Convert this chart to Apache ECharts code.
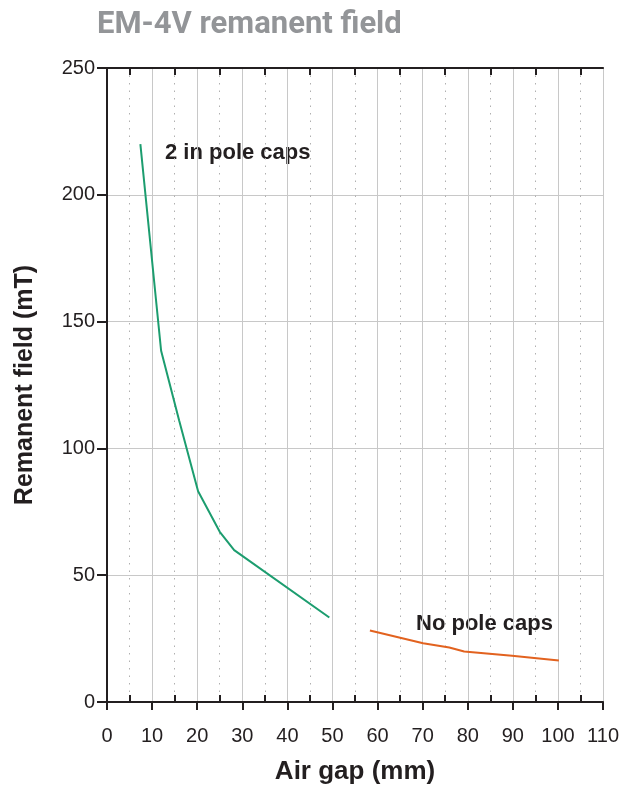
<!DOCTYPE html>
<html>
<head>
<meta charset="utf-8">
<script src="https://cdn.jsdelivr.net/npm/echarts@6/dist/echarts.min.js"></script>
<style>html,body{margin:0;padding:0;background:#fff;overflow:hidden;}#c{width:622px;height:790px;}</style>
</head>
<body>
<div id="c"></div>
<script>
const xTicks = [0, 10, 20, 30, 40, 50, 60, 70, 80, 90, 100, 110];
const yTicks = [0, 50, 100, 150, 200, 250];
const capsGap = [7.4, 12.0, 16.0, 20.2, 25.0, 28.2, 49.3];
const capsField = [220, 138.5, 111, 83.1, 67.1, 59.9, 33.3];
const noCapsGap = [58.3, 70.1, 75.9, 79.2, 89.8, 100.2];
const noCapsField = [28.2, 23.2, 21.5, 19.9, 18.2, 16.4];

const FONT = '"Liberation Sans Narrow", "Liberation Sans", Arial, sans-serif';
const INK = '#231f20';
const GRID = '#c8c8c8';

const chart = echarts.init(document.getElementById('c'), null, {renderer: 'canvas'});
const pair = (xs, ys) => xs.map((x, i) => [x, ys[i]]);

chart.setOption({
  animation: false,
  backgroundColor: '#fff',
  title: {
    text: 'EM-4V remanent field',
    left: 97, top: 10, padding: 0,
    textStyle: {fontFamily: 'Roboto, "Liberation Sans", sans-serif', fontWeight: 'bold', fontSize: 31, color: '#939598'}
  },
  grid: {left: 107, right: 13, top: 68, bottom: 86, containLabel: false},
  xAxis: [
    {
      type: 'value', position: 'bottom', min: xTicks[0], max: xTicks[xTicks.length - 1], interval: 10,
      name: 'Air gap (mm)', nameLocation: 'middle', nameGap: 57,
      nameTextStyle: {fontFamily: FONT, fontWeight: 'bold', fontSize: 26, color: INK},
      axisLine: {show: true, lineStyle: {color: INK, width: 2}},
      axisTick: {show: true, inside: false, length: 8, lineStyle: {color: INK, width: 2}},
      axisLabel: {fontFamily: FONT, fontSize: 20, color: INK, margin: 24},
      splitLine: {show: true, lineStyle: {color: GRID, width: 1}},
      minorTick: {show: false, splitNumber: 2},
      minorSplitLine: {show: true, lineStyle: {color: '#b0b0b0', width: 1, type: [1.5, 6]}}
    },
    {
      type: 'value', position: 'bottom', min: 0, max: 110, interval: 10,
      axisLine: {show: false},
      axisTick: {show: false, inside: true},
      axisLabel: {show: false},
      splitLine: {show: false},
      minorTick: {show: true, splitNumber: 2, length: 7, lineStyle: {color: INK, width: 2}}
    },
    {
      type: 'value', position: 'top', min: 0, max: 110, interval: 10,
      axisLine: {show: true, lineStyle: {color: INK, width: 2}},
      axisTick: {show: false, inside: true},
      axisLabel: {show: false},
      splitLine: {show: false},
      minorTick: {show: true, splitNumber: 2, length: 7, lineStyle: {color: INK, width: 2}}
    }
  ],
  yAxis: [
    {
      type: 'value', position: 'left', min: yTicks[0], max: yTicks[yTicks.length - 1], interval: 50,
      name: 'Remanent field (mT)', nameLocation: 'middle', nameGap: 69, nameRotate: 90,
      nameTextStyle: {fontFamily: FONT, fontWeight: 'bold', fontSize: 25, color: INK},
      axisLine: {show: true, lineStyle: {color: INK, width: 2}},
      axisTick: {show: true, inside: false, length: 10, lineStyle: {color: INK, width: 2}},
      axisLabel: {fontFamily: FONT, fontSize: 20, color: INK, margin: 12},
      splitLine: {show: true, lineStyle: {color: GRID, width: 1}}
    },
    {
      type: 'value', position: 'right', min: 0, max: 250, interval: 50,
      axisLine: {show: true, lineStyle: {color: INK, width: 2}},
      axisTick: {show: false}, axisLabel: {show: false}, splitLine: {show: false}
    }
  ],
  series: [
    {
      name: '2 in pole caps', type: 'line', xAxisIndex: 0, yAxisIndex: 0,
      data: pair(capsGap, capsField), showSymbol: false, symbol: 'none',
      lineStyle: {color: '#1c9d6f', width: 2}, z: 5
    },
    {
      name: 'No pole caps', type: 'line', xAxisIndex: 0, yAxisIndex: 0,
      data: pair(noCapsGap, noCapsField), showSymbol: false, symbol: 'none',
      lineStyle: {color: '#e2621f', width: 2}, z: 5
    }
  ],
  graphic: [
    {type: 'text', left: 165, top: 142, style: {text: '2 in pole caps', fontFamily: FONT, fontWeight: 'bold', fontSize: 22, fill: INK}},
    {type: 'text', left: 416, top: 613, style: {text: 'No pole caps', fontFamily: FONT, fontWeight: 'bold', fontSize: 22, fill: INK}}
  ]
});
</script>
</body>
</html>
